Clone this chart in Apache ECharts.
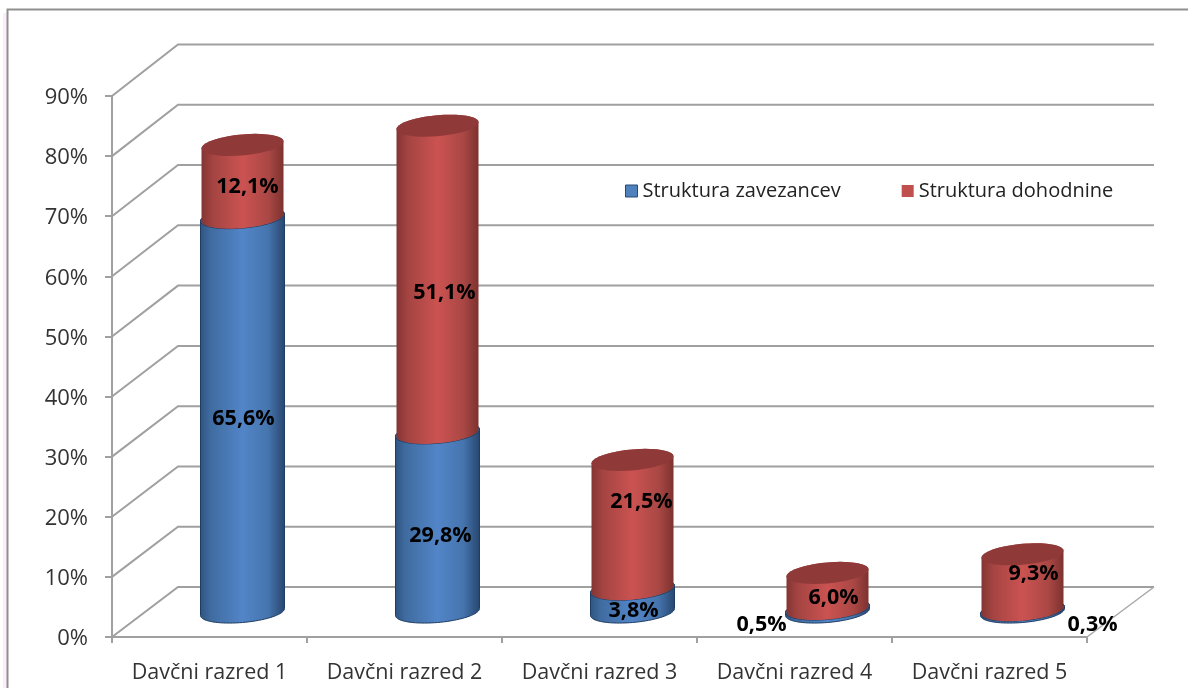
<!DOCTYPE html>
<html>
<head>
<meta charset="utf-8">
<style>html,body{margin:0;padding:0;background:#fff}#c{width:1188px;height:688px}</style>
<script src="https://cdn.jsdelivr.net/npm/echarts@6/dist/echarts.min.js"></script>
</head>
<body>
<div id="c"></div>
<script>
var categories = ['Davčni razred 1','Davčni razred 2','Davčni razred 3','Davčni razred 4','Davčni razred 5'];
var zavezanci = [65.6, 29.8, 3.8, 0.5, 0.3];
var dohodnina = [12.1, 51.1, 21.5, 6.0, 9.3];
var yTicks = [0,10,20,30,40,50,60,70,80,90];
var seriesNames = ['Struktura zavezancev','Struktura dohodnine'];

// hand-placed label nudges of the original, in pixels
var blueNudge = [[1,4],[3,13],[1,10],[-66,14],[70,14]];
var redNudge  = [[5,6],[7,14],[9,-23],[6,7],[11,-8]];

var DEPTH_X = 66, DEPTH_Y = 50, MID_X = 33, MID_Y = 25, TILT = 3.5, RY = 10.5;

function grad(stops){
  return new echarts.graphic.LinearGradient(0,0,1,0,stops.map(function(s){return {offset:s[0],color:s[1]};}));
}
var blueFill = [[0,'#2f5380'],[0.12,'#3f6b9f'],[0.5,'#5285c8'],[0.8,'#4675ae'],[1,'#27466f']];
var redFill  = [[0,'#843533'],[0.14,'#a44442'],[0.5,'#cb5351'],[0.82,'#a94744'],[1,'#7d322f']];

function arc(cx,cy,rx,from,to){
  var pts=[];
  for(var i=0;i<=40;i++){
    var t=from+(to-from)*i/40;
    pts.push([cx+rx*Math.cos(t), cy+RY*Math.sin(t)-TILT*Math.cos(t)]);
  }
  return pts;
}
function cylinder(rx,fill,cap,stroke){
  return function(params,api){
    var i=api.value(0), base=api.value(1), top=api.value(2);
    var a=api.coord([i,base]), b=api.coord([i,top]);
    var cx=a[0]+MID_X, y0=a[1]-MID_Y, y1=b[1]-MID_Y;
    var body=arc(cx,y0,rx,0,Math.PI).concat(arc(cx,y1,rx,Math.PI,2*Math.PI));
    var capPts=arc(cx,y1,rx,0,2*Math.PI);
    var lw=stroke?1:0;
    return {type:'group',children:[
      {type:'polygon',shape:{points:body},style:{fill:grad(fill),stroke:stroke,lineWidth:lw}},
      {type:'polygon',shape:{points:capPts},style:{fill:cap,stroke:stroke,lineWidth:lw}}
    ]};
  };
}
var blueData = zavezanci.map(function(v,i){return [i,0,v];});
var redData  = dohodnina.map(function(v,i){return [i,zavezanci[i],zavezanci[i]+v];});
var labelData = blueData.map(function(d,i){return [d[0],(d[1]+d[2])/2,zavezanci[i],blueNudge[i][0],blueNudge[i][1]];})
  .concat(redData.map(function(d,i){return [d[0],(d[1]+d[2])/2,dohodnina[i],redNudge[i][0],redNudge[i][1]];}));

var chart = echarts.init(document.getElementById('c'),null,{renderer:'canvas'});
chart.setOption({
  animation:false,
  backgroundColor:'#fff',
  textStyle:{fontFamily:'Open Sans'},
  graphic:[
    {type:'rect',silent:true,z:0,shape:{x:3,y:13,width:4,height:680},style:{fill:'#fbeefb'}},
    {type:'polyline',silent:true,z:1,shape:{points:[[7.5,700],[7.5,9.5],[1200,9.5]]},style:{stroke:'#8f8f8f',lineWidth:2,fill:null}}
  ],
  legend:{
    left:625, top:181, padding:0, itemWidth:12, itemHeight:12, itemGap:61,
    textStyle:{fontSize:20,color:'#222',fontFamily:'Open Sans'},
    data:[
      {name:seriesNames[0],icon:'rect',itemStyle:{color:'#4f81bd',borderColor:'#2a4a72',borderWidth:1}},
      {name:seriesNames[1],icon:'rect',itemStyle:{color:'#c0504d',borderWidth:0}}
    ]
  },
  grid:{left:112,right:101,top:96,bottom:51,containLabel:false},
  xAxis:{type:'category',data:categories,
    axisLine:{lineStyle:{color:'#a0a0a0',width:2}},
    axisTick:{show:true,length:6,alignWithLabel:false,lineStyle:{color:'#a0a0a0',width:2}},
    axisLabel:{fontSize:21.5,color:'#333',margin:25,interval:0,fontFamily:'Open Sans'},
    splitLine:{show:false}},
  yAxis:{type:'value',min:0,max:90,interval:10,
    axisLine:{show:true,lineStyle:{color:'#a0a0a0',width:2}},
    axisTick:{show:true,length:7,lineStyle:{color:'#a0a0a0',width:2}},
    axisLabel:{fontSize:22,color:'#333',margin:24,verticalAlign:'top',lineHeight:4,formatter:'{value}%',fontFamily:'Open Sans'},
    splitLine:{show:false}},
  series:[
    {type:'custom',name:'wall',silent:true,z:1,clip:false,data:yTicks.map(function(v){return [v];}),
      encode:{y:0},
      renderItem:function(params,api){
        var v=api.value(0), p=api.coord([0,v]), sys=params.coordSys;
        var left=sys.x, right=sys.x+sys.width, back=p[1]-DEPTH_Y-v/60;
        return {type:'polyline',shape:{points:[[left,p[1]],[left+DEPTH_X,back],[right+DEPTH_X+1,back]]},
          style:{stroke:'#a0a0a0',lineWidth:2,fill:null}};
      }},
    {type:'custom',name:'floor',silent:true,z:1,clip:false,data:[[categories.length-1,0]],
      renderItem:function(params,api){
        var sys=params.coordSys, y=api.coord([0,0])[1], right=sys.x+sys.width;
        return {type:'line',shape:{x1:right,y1:y,x2:right+DEPTH_X+1,y2:y-DEPTH_Y},style:{stroke:'#a8a8a8',lineWidth:1.5}};
      }},
    {type:'custom',name:seriesNames[0],z:3,clip:false,itemStyle:{color:'#4f81bd'},data:blueData,
      encode:{x:0,y:2},renderItem:cylinder(42,blueFill,'#3b6393','#1f3d63')},
    {type:'custom',name:seriesNames[1],z:4,clip:false,itemStyle:{color:'#c0504d'},data:redData,
      encode:{x:0,y:2},renderItem:cylinder(41,redFill,'#8f3a38',null)},
    {type:'custom',name:'labels',silent:true,z:6,clip:false,data:labelData,
      encode:{x:0,y:1},
      renderItem:function(params,api){
        var p=api.coord([api.value(0),api.value(1)]);
        return {type:'text',style:{
          x:p[0]+MID_X+api.value(3), y:p[1]-MID_Y+api.value(4),
          text:api.value(2).toFixed(1).replace('.',',')+'%',
          fill:'#000',font:'bold 21.5px "Open Sans"',align:'center',verticalAlign:'middle'}};
      }}
  ]
});
</script>
</body>
</html>
